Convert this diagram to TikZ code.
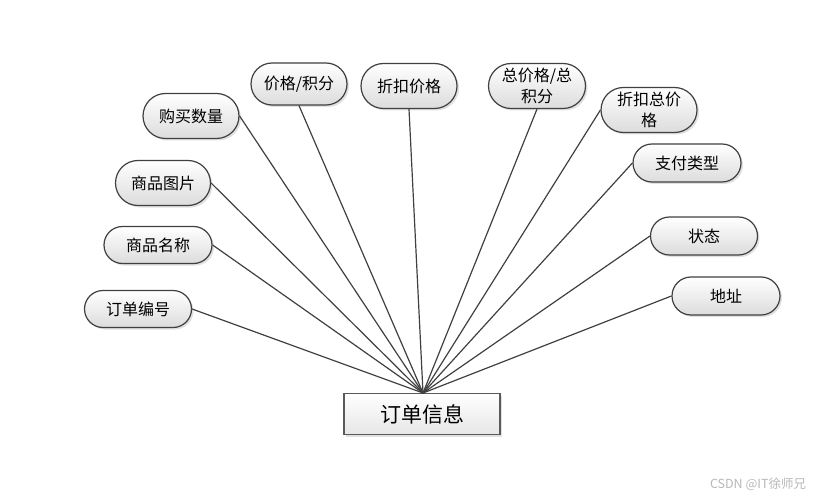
\documentclass[tikz,border=0pt]{standalone}
\usepackage{fontspec}
\setmainfont{Noto Sans CJK SC}
\usepackage{tikz}
\usetikzlibrary{shapes.misc, shadows}
\definecolor{clrLine}  {HTML}{404040}
\definecolor{clrBorder}{HTML}{5A5A5A}
\definecolor{clrFillBot}{HTML}{DCDCDC}
\definecolor{clrMark}  {HTML}{B8B8B8}

\begin{document}
\begin{tikzpicture}[x=1pt, y=-1pt,
  attr/.style={rounded rectangle, draw=clrLine, line width=1.2pt,
               top color=white, bottom color=clrFillBot,
               minimum width=98pt, minimum height=42pt, inner sep=1pt,
               font=\fontsize{16}{21}\selectfont, align=center,
               drop shadow={shadow xshift=2pt, shadow yshift=-2pt,
                            fill=black!30, opacity=0.4}},
  entity/.style={draw=clrBorder, line width=1.2pt,
                 top color=white, bottom color=clrFillBot!70,
                 minimum width=156pt, minimum height=41pt,
                 font=\fontsize{21}{24}\selectfont,
                 drop shadow={shadow xshift=2pt, shadow yshift=-2pt,
                              fill=black!30, opacity=0.4}},
  link/.style={draw=clrLine, line width=1.2pt},
]
\useasboundingbox (0,0) rectangle (825,500);

\node[entity] (order) at (422,414) {订单信息};
\coordinate (hub) at (423,393);

% left side
\node[attr, minimum width=109pt, minimum height=37pt] (orderNo)  at (138,309) {订单编号};
\node[attr, minimum width=110pt, minimum height=37pt] (goodsName) at (158,245) {商品名称};
\node[attr, minimum width=97pt, minimum height=45pt]  (goodsPic) at (163,183) {商品图片};
\node[attr, minimum width=98pt, minimum height=45pt]  (buyNum)   at (191,116) {购买数量};
% top
\node[attr, minimum width=98pt, minimum height=42pt]  (price)    at (299,84)  {价格/积分};
\node[attr, minimum width=98pt, minimum height=45pt]  (discPrice) at (409,86) {折扣价格};
\node[attr, minimum width=99pt, minimum height=45pt]  (total)    at (537,86)  {总价格/总\\积分};
\node[attr, minimum width=98pt, minimum height=45pt]  (discTotal) at (649,110) {折扣总价\\格};
% right side
\node[attr, minimum width=110pt, minimum height=38pt] (payType)  at (687,163) {支付类型};
\node[attr, minimum width=109pt, minimum height=38pt] (state)    at (704,236) {状态};
\node[attr, minimum width=110pt, minimum height=38pt] (address)  at (726,296) {地址};

\draw[link] (orderNo.east)   -- (hub);
\draw[link] (goodsName.east) -- (hub);
\draw[link] (goodsPic.east)  -- (hub);
\draw[link] (buyNum.east)    -- (hub);
\draw[link] (price.south)    -- (hub);
\draw[link] (discPrice.south) -- (hub);
\draw[link] (total.south)    -- (hub);
\draw[link] (discTotal.west) -- (hub);
\draw[link] (payType.west)   -- (hub);
\draw[link] (state.west)     -- (hub);
\draw[link] (address.west)   -- (hub);

\node[text=clrMark, font=\fontsize{12.5}{15}\selectfont] (mark) at (758,484) {CSDN @IT徐师兄};
\end{tikzpicture}
\end{document}
